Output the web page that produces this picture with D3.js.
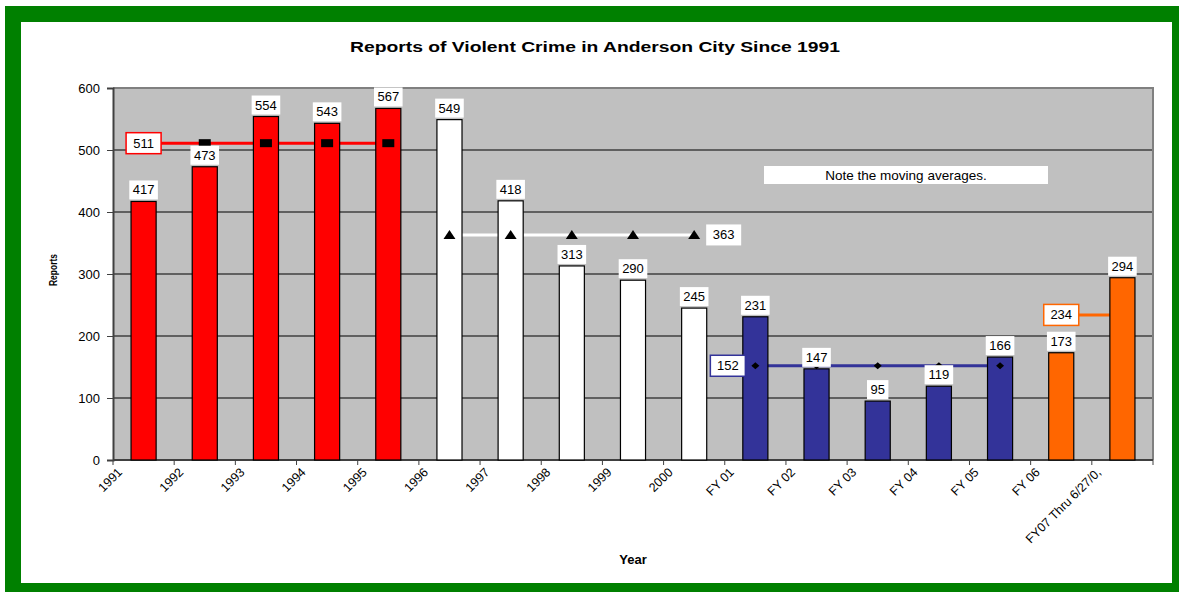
<!DOCTYPE html>
<html>
<head>
<meta charset="utf-8">
<script src="https://cdn.jsdelivr.net/npm/d3@7/dist/d3.min.js"></script>
<style>
  html, body { margin: 0; padding: 0; background: #fff; }
  svg { display: block; font-family: "Liberation Sans", Arial, sans-serif; }
</style>
</head>
<body>
<svg id="chart" width="1179" height="592"></svg>
<script>
// ---- data ----
const categories = ["1991","1992","1993","1994","1995","1996","1997","1998","1999","2000",
  "FY 01","FY 02","FY 03","FY 04","FY 05","FY 06","FY07 Thru 6/27/0,"];
const reports = [417,473,554,543,567,549,418,313,290,245,231,147,95,119,166,173,294];
const barGroups = ["red","red","red","red","red","white","white","white","white","white",
  "blue","blue","blue","blue","blue","orange","orange"];
const yTicks = [0,100,200,300,400,500,600];

// moving averages (one per period)
const avgRedCats = ["1991","1992","1993","1994","1995"];
const avgRedVals = [511,511,511,511,511];
const avgWhiteCats = ["1996","1997","1998","1999","2000"];
const avgWhiteVals = [363,363,363,363,363];
const avgBlueCats = ["FY 01","FY 02","FY 03","FY 04","FY 05"];
const avgBlueVals = [152,152,152,152,152];
const avgOrangeCats = ["FY 06","FY07 Thru 6/27/0,"];
const avgOrangeVals = [234,234];

const titleText = "Reports of Violent Crime in Anderson City Since 1991";
const noteText = "Note the moving averages.";

// ---- styles ----
const colors = { red: "#FF0000", white: "#FFFFFF", blue: "#333399", orange: "#FF6600" };

const svg = d3.select("#chart");

// frame
svg.append("rect").attr("x", 5).attr("y", 6).attr("width", 1200).attr("height", 600).attr("fill", "#008000");
svg.append("rect").attr("x", 21).attr("y", 22).attr("width", 1151).attr("height", 561).attr("fill", "#FFFFFF");

const plot = { left: 113, right: 1153, top: 88, bottom: 460 };

const x = d3.scaleBand().domain(categories).range([plot.left, plot.right])
  .paddingInner(0.59).paddingOuter(0.295);
const y = d3.scaleLinear().domain([0, 600]).range([plot.bottom, plot.top]);
const step = x.step();
const cx = d => x(d) + x.bandwidth() / 2;

// plot background
svg.append("rect").attr("x", plot.left).attr("y", plot.top)
  .attr("width", plot.right - plot.left).attr("height", plot.bottom - plot.top)
  .attr("fill", "#C0C0C0");

// gridlines
svg.append("g").selectAll("line").data(yTicks.filter(t => t > 0 && t < 600)).join("line")
  .attr("x1", plot.left).attr("x2", plot.right)
  .attr("y1", d => y(d)).attr("y2", d => y(d))
  .attr("stroke", "#000").attr("stroke-width", 1);

// plot border
svg.append("path")
  .attr("d", `M${plot.left},${plot.top}H${plot.right}V${plot.bottom}`)
  .attr("fill", "none").attr("stroke", "#808080").attr("stroke-width", 2);

// Y axis
const yAxis = d3.axisLeft(y).tickValues(yTicks).tickSize(6).tickPadding(7);
const gy = svg.append("g").attr("transform", `translate(${plot.left},0)`).call(yAxis);
gy.select(".domain").attr("stroke", "#404040").attr("stroke-width", 2);
gy.selectAll(".tick line").attr("stroke", "#404040");
gy.selectAll("text").attr("font-size", 13).attr("fill", "#000")
  .attr("font-family", "Liberation Sans, Arial, sans-serif");

// X axis: ticks at category boundaries, labels at ticks
const boundaries = categories.map(c => x(c) + x.bandwidth() / 2 - step / 2);
const gx = svg.append("g");
gx.append("line").attr("x1", plot.left).attr("x2", plot.right)
  .attr("y1", plot.bottom).attr("y2", plot.bottom).attr("stroke", "#404040").attr("stroke-width", 2);
gx.selectAll("line.tk").data(boundaries.concat([plot.right])).join("line").attr("class", "tk")
  .attr("x1", d => d).attr("x2", d => d)
  .attr("y1", plot.bottom).attr("y2", plot.bottom + 5)
  .attr("stroke", "#404040");
gx.selectAll("text").data(categories).join("text")
  .attr("transform", (d, i) => `translate(${boundaries[i] + 10},${plot.bottom + 13}) rotate(-45)`)
  .attr("text-anchor", "end")
  .attr("font-size", 12.5)
  .text(d => d);

// moving average lines (under bars)
const avgSets = [
  { cats: avgRedCats, vals: avgRedVals, color: colors.red, marker: "square", label: "left-center", border: colors.red },
  { cats: avgWhiteCats, vals: avgWhiteVals, color: colors.white, marker: "triangle", label: "right", border: null },
  { cats: avgBlueCats, vals: avgBlueVals, color: colors.blue, marker: "diamond", label: "left", border: colors.blue },
  { cats: avgOrangeCats, vals: avgOrangeVals, color: colors.orange, marker: null, label: "left-center", border: colors.orange }
];
const lineGen = d3.line().x(d => cx(d.c)).y(d => y(d.v));
avgSets.forEach(s => {
  const pts = s.cats.map((c, i) => ({ c, v: s.vals[i] }));
  svg.append("path").datum(pts).attr("d", lineGen)
    .attr("fill", "none").attr("stroke", s.color).attr("stroke-width", 3);
  s.pts = pts;
});

// bars
svg.append("g").selectAll("rect").data(categories).join("rect")
  .attr("x", d => x(d)).attr("width", x.bandwidth())
  .attr("y", (d, i) => y(reports[i]))
  .attr("height", (d, i) => y(0) - y(reports[i]))
  .attr("fill", (d, i) => colors[barGroups[i]])
  .attr("stroke", "#000").attr("stroke-width", 1.2);

// markers
avgSets.forEach(s => {
  if (!s.marker) return;
  const g = svg.append("g");
  s.pts.forEach(p => {
    const px = cx(p.c), py = y(p.v);
    if (s.marker === "square") {
      g.append("rect").attr("x", px - 6).attr("y", py - 4).attr("width", 12).attr("height", 8).attr("fill", "#000");
    } else if (s.marker === "triangle") {
      g.append("path").attr("d", `M${px},${py - 5}L${px + 6},${py + 4}L${px - 6},${py + 4}Z`).attr("fill", "#000");
    } else if (s.marker === "diamond") {
      g.append("path").attr("d", `M${px},${py - 3.5}L${px + 4},${py}L${px},${py + 3.5}L${px - 4},${py}Z`).attr("fill", "#000");
    }
  });
});

// value labels
const labG = svg.append("g");
categories.forEach((c, i) => {
  const txt = String(reports[i]);
  const w = txt.length * 7.2 + 7;
  const by = y(reports[i]) - 2;
  labG.append("rect").attr("x", cx(c) - w / 2).attr("y", by - 19).attr("width", w).attr("height", 19).attr("fill", "#fff");
  labG.append("text").attr("x", cx(c)).attr("y", by - 5).attr("text-anchor", "middle")
    .attr("font-size", 13).text(txt);
});

// average labels
avgSets.forEach(s => {
  const first = s.pts[0], last = s.pts[s.pts.length - 1];
  const txt = String(first.v);
  const w = 35, h = 21;
  let bx, by = y(first.v) - h / 2;
  if (s.label === "left-center") bx = cx(first.c) - w / 2;
  else if (s.label === "left") bx = cx(first.c) - 10 - w;
  else bx = cx(last.c) + 12;
  labG.append("rect").attr("x", bx).attr("y", by).attr("width", w).attr("height", h)
    .attr("fill", "#fff").attr("stroke", s.border || "none").attr("stroke-width", 1.5);
  labG.append("text").attr("x", bx + w / 2).attr("y", by + 15).attr("text-anchor", "middle")
    .attr("font-size", 13).text(txt);
});

// note box
labG.append("rect").attr("x", 764).attr("y", 166).attr("width", 284).attr("height", 18).attr("fill", "#fff");
labG.append("text").attr("x", 906).attr("y", 180).attr("text-anchor", "middle").attr("font-size", 13.5).text(noteText);

// title & axis titles
svg.append("text").attr("x", 595).attr("y", 52).attr("text-anchor", "middle")
  .attr("font-size", 14).attr("font-weight", "bold").attr("textLength", 490).attr("lengthAdjust", "spacingAndGlyphs")
  .text(titleText);
svg.append("text").attr("x", 633).attr("y", 564).attr("text-anchor", "middle")
  .attr("font-size", 13).attr("font-weight", "bold").text("Year");
svg.append("text").attr("transform", "translate(57,270) rotate(-90)").attr("text-anchor", "middle")
  .attr("font-size", 11).attr("font-weight", "bold").attr("textLength", 32).attr("lengthAdjust", "spacingAndGlyphs")
  .text("Reports");
</script>
</body>
</html>
